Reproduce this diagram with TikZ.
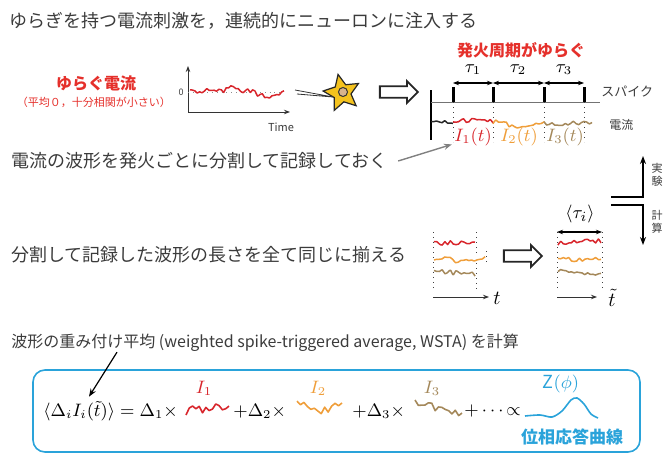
\documentclass[tikz,border=0pt]{standalone}
\usepackage{fontspec}
\setmainfont{Noto Sans CJK JP}
\usepackage{amsmath}
\usetikzlibrary{arrows.meta,positioning,shapes.geometric,shapes.arrows}

\definecolor{txtgray}{HTML}{3B3B3B}
\definecolor{fred}{HTML}{E5302B}
\definecolor{tred}{HTML}{D8262C}
\definecolor{torange}{HTML}{EF9E3A}
\definecolor{tbrown}{HTML}{A4885A}
\definecolor{prcblue}{HTML}{2AA3DA}
\definecolor{neuronyel}{HTML}{F4C21E}
\definecolor{nucleusbr}{HTML}{D8B48C}

\begin{document}
\begin{tikzpicture}[x=0.5pt,y=-0.5pt,
    every node/.style={inner sep=0pt},
    jptext/.style={font=\fontsize{9pt}{11pt}\selectfont, text=txtgray, anchor=west},
    redhead/.style={font=\fontsize{8pt}{10pt}\selectfont\bfseries, text=fred},
    tinytext/.style={font=\fontsize{5.5pt}{6pt}\selectfont, text=txtgray},
    trace/.style={line width=0.75pt, line join=round},
    bigtrace/.style={line width=0.8pt, line join=round},
    openarrow/.style={single arrow, draw=black!85, fill=white, line width=0.9pt, inner sep=2.4pt, minimum height=19pt, single arrow head extend=2.6pt},
    cut/.style={dotted, line width=0.5pt, black!75},
    axis/.style={-{Stealth[length=3pt]}, line width=0.5pt, black!80},
    ilabel/.style={font=\fontsize{9pt}{10pt}\selectfont},
    formula/.style={font=\fontsize{9pt}{11pt}\selectfont, anchor=west},
  ]
\useasboundingbox (0,0) rectangle (665,455);
\pgfmathsetseed{23}

% --- stimulation ---
\node[jptext] (title) at (9,21) {ゆらぎを持つ電流刺激を，連続的にニューロンに注入する};
\node[redhead] (fluct) at (96,83) {ゆらぐ電流};
\node[font=\fontsize{5.5pt}{6pt}\selectfont, text=fred] (fluctnote) at (94,102) {（平均０，十分相関が小さい）};

\coordinate (origin) at (188,112);
\draw[axis] (origin) -- (188,66);
\draw[axis] (origin) -- (290,112);
\draw[dotted, black!45] (188,92) -- (282,92);
\node[tinytext, font=\fontsize{4.5pt}{5pt}\selectfont] (zero) at (181,92) {0};
\node[tinytext] (time) at (281,127) {Time};
\draw[trace, tred] plot[smooth, domain=190:284, samples=40] (\x, {91 + 2.4*rand - 3*(\x>226)*(\x<238) + 5*(\x>257)*(\x<280)});

\node[star, star points=5, star point ratio=2.1, minimum size=19pt, fill=neuronyel, draw=black!85, line width=0.6pt, rotate=12] (neuron) at (342,93) {};
\node[circle, draw=black!80, fill=nucleusbr, minimum size=4.5pt, line width=0.5pt] (nucleus) at (343,92) {};
\coordinate (pipA) at (295,90);
\coordinate (pipB) at (297,94);
\coordinate (tip) at (333,97);
\draw[black!80, line width=0.4pt] (pipA) -- (tip) (pipB) -- (tip);

\node[openarrow] (go1) at (396,92) {};

% --- spike train and recorded current ---
\draw[line width=1pt] (431,90) -- (431,140);
\draw[black!55, line width=0.5pt] (431,102) -- (600,102);
\foreach \x [count=\i] in {453,493,544,584} {
  \coordinate (sp\i) at (\x,102);
  \draw[line width=1.5pt] (\x,87) -- (sp\i);
  \draw[cut] (sp\i) -- (\x,142);
}
\draw[{Stealth[length=3pt]}-{Stealth[length=3pt]}, line width=0.6pt] (453,83) -- (493,83);
\draw[{Stealth[length=3pt]}-{Stealth[length=3pt]}, line width=0.6pt] (493,83) -- (544,83);
\draw[{Stealth[length=3pt]}-{Stealth[length=3pt]}, line width=0.6pt] (544,83) -- (584,83);
\node[redhead] (period) at (521,50) {発火周期がゆらぐ};
\node[ilabel] (tau1) at (473,70) {$\tau_1$};
\node[ilabel] (tau2) at (518,70) {$\tau_2$};
\node[ilabel] (tau3) at (564,70) {$\tau_3$};
\node[tinytext, font=\fontsize{6.5pt}{7pt}\selectfont, anchor=west] (spike) at (601,92) {スパイク};
\node[tinytext, font=\fontsize{6pt}{7pt}\selectfont, anchor=west] (current) at (609,125) {電流};

\draw[trace, black!85] plot[smooth, domain=431:453, samples=9] (\x, {122 + 2*rand});
\draw[trace, tred] plot[smooth, domain=453:493, samples=16] (\x, {121 + 2.4*rand});
\draw[trace, torange] plot[smooth, domain=493:544, samples=20] (\x, {122 + 2*rand + 4*(\x>508)*(\x<535)});
\draw[trace, tbrown] plot[smooth, domain=544:592, samples=19] (\x, {123 + 2.4*rand});
\node[ilabel, text=tred] (lab1) at (473,137) {$I_1(t)$};
\node[ilabel, text=torange] (lab2) at (519,137) {$I_2(t)$};
\node[ilabel, text=tbrown] (lab3) at (565,137) {$I_3(t)$};

\node[jptext] (splittext) at (11,161) {電流の波形を発火ごとに分割して記録しておく};
\draw[-{Stealth[length=4pt]}, black!50, line width=0.7pt] ([xshift=5pt]splittext.east) -- ([xshift=-1pt,yshift=1pt]lab1.south west);

% --- experiment / computation ---
\draw[-{Stealth[length=4pt]}, line width=0.8pt] (611,197) -- (643,197) -- (643,156);
\draw[-{Stealth[length=4pt]}, line width=0.8pt] (611,205) -- (643,205) -- (643,245);
\node[tinytext, align=center, font=\fontsize{5.5pt}{6.2pt}\selectfont] (expt) at (657,175) {実\\験};
\node[tinytext, align=center, font=\fontsize{5.5pt}{6.2pt}\selectfont] (calc) at (657,222) {計\\算};

% --- stretching to equal length ---
\node[jptext] (equaltext) at (11,255) {分割して記録した波形の長さを全て同じに揃える};
\draw[cut] (433,232) -- (433,291);
\draw[cut] (476,232) -- (476,254);
\draw[cut] (486,251) -- (486,265);
\draw[cut] (476,263) -- (476,291);
\draw[trace, tred] plot[smooth, domain=434:475, samples=16] (\x, {243 + 2.3*rand});
\draw[trace, torange] plot[smooth, domain=434:485, samples=20] (\x, {258 + 2*rand + 3*(\x>452)*(\x<475)});
\draw[trace, tbrown] plot[smooth, domain=434:475, samples=16] (\x, {271 + 2.3*rand + 0.08*(\x-434)});
\draw[axis] (433,297) -- (489,297);
\node[ilabel, font=\fontsize{10pt}{11pt}\selectfont] (tax) at (497,298) {$t$};

\node[openarrow] (go2) at (520,256) {};

\draw[cut] (557,232) -- (557,291);
\draw[cut] (602,232) -- (602,291);
\draw[{Stealth[length=3pt]}-{Stealth[length=3pt]}, line width=1.1pt] (557,232) -- (602,232);
\node[ilabel, font=\fontsize{9.5pt}{11pt}\selectfont] (meantau) at (580,214) {$\langle\tau_i\rangle$};
\draw[trace, tred] plot[smooth, domain=558:601, samples=17] (\x, {243 + 2.3*rand - 0.05*(\x-558)});
\draw[trace, torange] plot[smooth, domain=558:601, samples=17] (\x, {258 + 2*rand + 2*(\x>570)*(\x<590)});
\draw[trace, tbrown] plot[smooth, domain=558:601, samples=17] (\x, {270 + 2.3*rand + 0.1*(\x-558)});
\draw[axis] (557,297) -- (597,297);
\node[ilabel, font=\fontsize{10pt}{11pt}\selectfont] (ttilde) at (612,298) {$\tilde{t}$};

% --- weighted spike-triggered average ---
\node[jptext, font=\fontsize{8pt}{10pt}\selectfont] (wsta) at (11,343) {波形の重み付け平均 (weighted spike-triggered average, WSTA) を計算};
\draw[prcblue, line width=0.8pt, rounded corners=6pt] (33,370) rectangle (640,452);

\node[formula] (lhs) at (43,411) {$\langle\Delta_i I_i(\tilde{t})\rangle = \Delta_1 \times$};
\draw[bigtrace, tred] plot[domain=186:229, samples=14] (\x, {411 + 4.2*rand - 0.14*(\x-186)});
\node[formula] (term2) at (233,411) {$+\Delta_2\times$};
\draw[bigtrace, torange] plot[domain=297:342, samples=14] (\x, {405 + 4*rand + 5*(\x>308)*(\x<332)});
\node[formula] (term3) at (352,411) {$+\Delta_3\times$};
\draw[bigtrace, tbrown] plot[domain=415:462, samples=15] (\x, {404 + 4*rand + 0.18*(\x-415)});
\node[formula] (rest) at (464,411) {$+\cdots{\propto}$};
\draw[prcblue, line width=0.8pt] plot[smooth] coordinates {(525,416) (540,415) (552,417) (562,411) (571,400) (577,398) (584,404) (591,414) (598,418)};

\node[formula, anchor=center, text=tred] (w1) at (204,388) {$I_1$};
\node[formula, anchor=center, text=torange] (w2) at (318,388) {$I_2$};
\node[formula, anchor=center, text=tbrown] (w3) at (432,388) {$I_3$};
\node[formula, anchor=center, text=prcblue] (prc) at (561,384) {$\mathrm{Z}(\phi)$};
\node[font=\fontsize{8.5pt}{10pt}\selectfont\bfseries, text=prcblue] (prcname) at (572,437) {位相応答曲線};

\draw[-{Stealth[length=4pt]}, line width=0.6pt] ([xshift=53pt]wsta.south west) -- ([xshift=23pt,yshift=2pt]lhs.north west);
\end{tikzpicture}
\end{document}
